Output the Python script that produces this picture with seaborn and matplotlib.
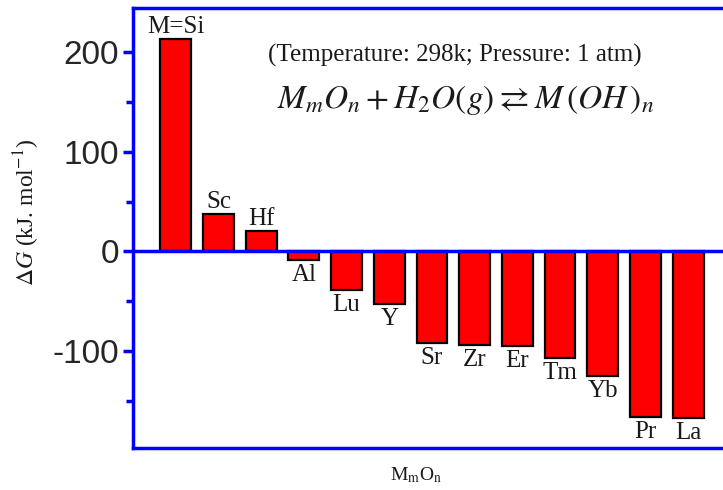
import matplotlib
matplotlib.use("Agg")
import matplotlib.pyplot as plt
import seaborn as sns
import pandas as pd
from matplotlib.ticker import MultipleLocator

sns.set_theme(style="white")
plt.rcParams['font.family'] = ['Liberation Serif', 'DejaVu Serif']
plt.rcParams['mathtext.fontset'] = 'stix'

oxides = ["M=Si", "Sc", "Hf", "Al", "Lu", "Y", "Sr", "Zr", "Er", "Tm", "Yb", "Pr", "La"]
delta_g = [213, 38, 20, -9, -39, -53, -92, -94, -95, -107, -125, -166, -167]

df = pd.DataFrame({"oxide": oxides, "dG": delta_g})

fig = plt.figure(figsize=(7.23, 4.90), dpi=100)
ax = fig.add_axes([0.184, 0.0857, 0.827, 0.898])

sns.barplot(data=df, x="oxide", y="dG", color="#ff0000", saturation=1,
            edgecolor="black", linewidth=1.6, width=0.72, ax=ax)

ax.set_xlim(-1, len(oxides))
ax.set_ylim(-197, 244)
ax.axhline(0, color="#0000ff", lw=2.5, zorder=5)

for i, (name, v) in enumerate(zip(oxides, delta_g)):
    if v >= 0:
        ax.text(i, v + 1, name, ha="center", va="bottom", fontsize=18, color="#1a1a1a")
    else:
        ax.text(i, v - 4, name, ha="center", va="top", fontsize=18, color="#1a1a1a")

for s in ax.spines.values():
    s.set_color("#0000ff")
    s.set_linewidth(2.5)

ax.set_xticks([])
ax.yaxis.set_major_locator(MultipleLocator(100))
ax.yaxis.set_minor_locator(MultipleLocator(50))
ax.tick_params(axis="y", which="major", direction="out", length=7, width=2.5,
               color="#0000ff", labelsize=24, left=True, right=True, pad=3)
ax.tick_params(axis="y", which="minor", direction="out", length=5, width=2.5,
               color="#0000ff", left=True, right=True)
ax.set_yticks([-100, 0, 100, 200])
ax.set_yticklabels(["-100", "0", "100", "200"], family=["Liberation Sans", "DejaVu Sans"])

ax.set_ylabel(r"$\Delta G$ (kJ. mol$^{-1}$)", fontsize=17, color="#1a1a1a")
ax.yaxis.label.set_va("center")
ax.yaxis.set_label_coords((27 - 133) / (0.827 * 723), (490 - 0.0857 * 490 - 212) / (0.898 * 490))
ax.set_xlabel(r"M$_\mathrm{m}$O$_\mathrm{n}$", fontsize=14, color="#1a1a1a")
ax.xaxis.set_label_coords((416 - 133) / (0.827 * 723), -(475 - 448) / (0.898 * 490))
ax.xaxis.label.set_va("center")

fig.text(455 / 723, 1 - 55 / 490, "(Temperature: 298k; Pressure: 1 atm)",
         fontsize=18, ha="center", va="center", color="#1a1a1a")
fig.text(466 / 723, 1 - 100 / 490, r"$M_{m}O_{n} + H_{2}O(g) \rightleftarrows M\,(OH\,)_{n}$",
         fontsize=24, ha="center", va="center", color="#1a1a1a")

fig.savefig("out.png", dpi=100)
